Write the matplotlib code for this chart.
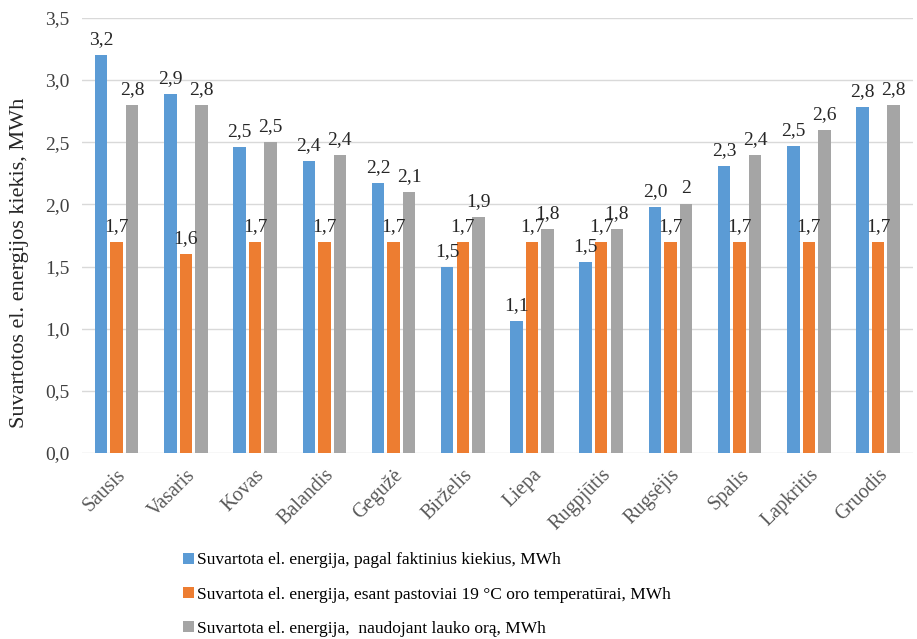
import numpy as np
import matplotlib.pyplot as plt

months = ['Sausis', 'Vasaris', 'Kovas', 'Balandis', 'Gegužė', 'Birželis',
          'Liepa', 'Rugpjūtis', 'Rugsėjis', 'Spalis', 'Lapkritis', 'Gruodis']

# MWh per month
actual = [3.20, 2.89, 2.46, 2.35, 2.17, 1.50, 1.06, 1.54, 1.98, 2.31, 2.47, 2.78]
const_19c = [1.7, 1.6, 1.7, 1.7, 1.7, 1.7, 1.7, 1.7, 1.7, 1.7, 1.7, 1.7]
outdoor_air = [2.8, 2.8, 2.5, 2.4, 2.1, 1.9, 1.8, 1.8, 2.0, 2.4, 2.6, 2.8]
outdoor_air_labels = ['2,8', '2,8', '2,5', '2,4', '2,1', '1,9', '1,8', '1,8', '2', '2,4', '2,6', '2,8']

series_names = ['Suvartota el. energija, pagal faktinius kiekius, MWh',
                'Suvartota el. energija, esant pastoviai 19 °C oro temperatūrai, MWh',
                'Suvartota el. energija,  naudojant lauko orą, MWh']
colors = ['#5B9BD5', '#ED7D31', '#A5A5A5']

plt.rcParams['font.family'] = ['Liberation Serif', 'DejaVu Serif']

def comma(v):
    return '{:.1f}'.format(v).replace('.', ',')

fig = plt.figure(figsize=(9.17, 6.39), dpi=100)
ax = fig.add_axes([0.0894, 0.291, 0.906, 0.681])

x = np.arange(len(months))
w = 0.18
step = 0.224

b1 = ax.bar(x - step, actual, w, color=colors[0], label=series_names[0], zorder=3)
b2 = ax.bar(x, const_19c, w, color=colors[1], label=series_names[1], zorder=3)
b3 = ax.bar(x + step, outdoor_air, w, color=colors[2], label=series_names[2], zorder=3)

lab_kw = dict(padding=5, fontsize=14, color='#262626', zorder=4)
ax.bar_label(b1, labels=[comma(v) for v in actual], **lab_kw)
ax.bar_label(b2, labels=[comma(v) for v in const_19c], **lab_kw)
ax.bar_label(b3, labels=outdoor_air_labels, **lab_kw)

ax.set_xlim(-0.5, len(months) - 0.5)
ax.set_ylim(0, 3.5)
yt = np.arange(0, 3.51, 0.5)
ax.set_yticks(yt)
ax.set_yticklabels([comma(v) for v in yt], fontsize=14, color='#404040')
ax.set_xticks(x)
ax.set_xticklabels(months, rotation=45, ha='right', rotation_mode='anchor',
                   fontsize=14.5, color='#595959')
ax.tick_params(axis='both', length=0)
ax.tick_params(axis='x', pad=9)
ax.tick_params(axis='y', pad=9)

ax.grid(axis='y', color='#D9D9D9', linewidth=1, zorder=0)
for s in ax.spines.values():
    s.set_visible(False)

ax.set_ylabel('Suvartotos el. energijos kiekis, MWh', fontsize=16, color='#262626')
ax.yaxis.set_label_coords(-0.064, 0.437)

leg = ax.legend(loc='upper left', frameon=False, fontsize=12.5, ncol=1,
                handlelength=0.6, handleheight=0.6, handletextpad=0.2,
                labelspacing=1.05)
leg.set_bbox_to_anchor((0.183, 0.16), transform=fig.transFigure)

fig.savefig('out.png', dpi=100)
